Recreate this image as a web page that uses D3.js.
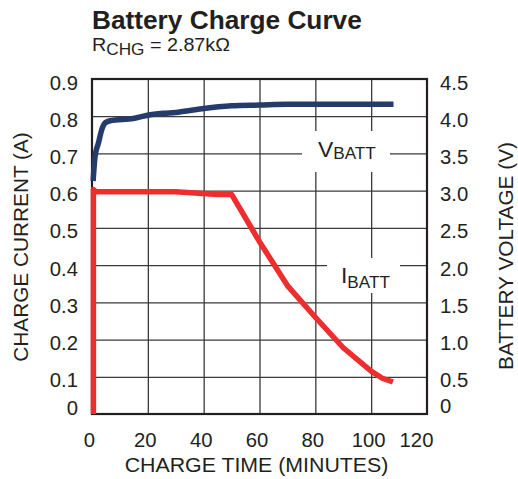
<!DOCTYPE html>
<html>
<head>
<meta charset="utf-8">
<script src="https://cdn.jsdelivr.net/npm/d3@7"></script>
<style>
  body { margin: 0; background: #fff; }
  text { font-family: "Liberation Sans", Arial, Helvetica, sans-serif; fill: #231f20; }
</style>
</head>
<body>
<div id="chart"></div>
<script>
// charge time (minutes) and battery voltage (V)
var vTime = [0.4, 1.1, 2.3, 3.5, 4.7, 6.5, 14.8, 20.8, 25.5, 30, 37.5, 50, 60, 70, 108];
var vBatt = [3.13, 3.46, 3.64, 3.82, 3.91, 3.94, 3.97, 4.02, 4.04, 4.05, 4.09, 4.14, 4.15, 4.16, 4.16];
// charge time (minutes) and charge current (A)
var iTime = [0.5, 0.5, 1.5, 30, 45, 50, 60, 70, 80, 90, 100, 104, 107.8];
var iBatt = [0, 0.603, 0.597, 0.597, 0.59, 0.59, 0.463, 0.345, 0.26, 0.178, 0.115, 0.096, 0.086];

var xTicks = [0, 20, 40, 60, 80, 100, 120];
var iTicks = [0, 0.1, 0.2, 0.3, 0.4, 0.5, 0.6, 0.7, 0.8, 0.9];
var vTicks = [0, 0.5, 1, 1.5, 2, 2.5, 3, 3.5, 4, 4.5];

var w = 518, h = 479;
var pLeft = 92, pRight = 427, pTop = 79, pBottom = 414;
var sx = 1.04; // the source lettering is a bit wide

var xScale = d3.scaleLinear().domain([0, 120]).range([pLeft, pRight]);
var yI = d3.scaleLinear().domain([0, 0.9]).range([pBottom, pTop]);
var yV = d3.scaleLinear().domain([0, 4.5]).range([pBottom, pTop]);

var svg = d3.select("#chart")
	.append("svg")
	.attr("width", w)
	.attr("height", h);

// grid via axes
var gx = svg.append("g")
	.attr("transform", "translate(0," + pBottom + ")")
	.call(d3.axisBottom(xScale).tickValues(xTicks).tickSize(-(pBottom - pTop)).tickSizeOuter(0));
var gy = svg.append("g")
	.attr("transform", "translate(" + pLeft + ",0)")
	.call(d3.axisLeft(yI).tickValues(iTicks).tickSize(-(pRight - pLeft)).tickSizeOuter(0)
		.tickFormat(function (d) { return d === 0 ? "0" : d.toFixed(1); }));
var gv = svg.append("g")
	.attr("transform", "translate(" + pRight + ",0)")
	.call(d3.axisRight(yV).tickValues(vTicks).tickSize(0)
		.tickFormat(function (d) { return d === 0 ? "0" : d.toFixed(1); }));

svg.selectAll(".domain").remove();
svg.selectAll(".tick line")
	.attr("stroke", "#3a3a3a")
	.attr("stroke-width", 1.3);

gx.selectAll(".tick text")
	.attr("dy", 0)
	.attr("y", 0)
	.attr("transform", function (d) {
		var dx = d === 120 ? -11 : -3;
		return "translate(" + dx + ",33) scale(" + sx + ",1)";
	});
gy.selectAll(".tick text")
	.attr("dy", 0)
	.attr("x", 0)
	.attr("transform", function (d) {
		return "translate(-14," + (d === 0 ? 0 : 10) + ") scale(" + sx + ",1)";
	});
gv.selectAll(".tick text")
	.attr("dy", 0)
	.attr("x", 0)
	.attr("transform", function (d) {
		return "translate(13," + (d === 0 ? -2 : 10) + ") scale(" + sx + ",1)";
	});
svg.selectAll(".tick text")
	.attr("fill", "#231f20")
	.attr("font-size", 19.5)
	.style("font-family", "'Liberation Sans', Arial, sans-serif");
svg.selectAll(".tick").filter(function (d) { return d === 0 || d === 120 || d === 0.9 || d === 4.5; })
	.select("line").remove();

// white boxes behind the curve labels
svg.append("rect").attr("x", 302).attr("y", 131).attr("width", 88).attr("height", 41).attr("fill", "#fff");
svg.append("rect").attr("x", 327).attr("y", 258).attr("width", 73).attr("height", 35).attr("fill", "#fff");

// frame
svg.append("rect")
	.attr("x", pLeft)
	.attr("y", pTop)
	.attr("width", pRight - pLeft)
	.attr("height", pBottom - pTop)
	.attr("fill", "none")
	.attr("stroke", "#231f20")
	.attr("stroke-width", 2.2);

// curves
var vLine = d3.line()
	.x(function (d, i) { return xScale(vTime[i]); })
	.y(function (d) { return yV(d); })
	.curve(d3.curveMonotoneX);
var iLine = d3.line()
	.x(function (d, i) { return xScale(iTime[i]); })
	.y(function (d) { return yI(d); });

svg.append("path")
	.datum(iBatt)
	.attr("fill", "none")
	.attr("stroke", "#ee2d2f")
	.attr("stroke-width", 5.5)
	.attr("stroke-linejoin", "round")
	.attr("d", iLine);

svg.append("path")
	.datum(vBatt)
	.attr("fill", "none")
	.attr("stroke", "#243b6c")
	.attr("stroke-width", 5.5)
	.attr("stroke-linejoin", "round")
	.attr("d", vLine);

// curve labels
var vLab = svg.append("text")
	.attr("transform", "translate(318,157) scale(" + sx + ",1)")
	.attr("font-size", 22);
vLab.append("tspan").text("V");
vLab.append("tspan").attr("font-size", 16.5).attr("dy", 2).text("BATT");

var iLab = svg.append("text")
	.attr("transform", "translate(341,283) scale(" + sx + ",1)")
	.attr("font-size", 22);
iLab.append("tspan").text("I");
iLab.append("tspan").attr("font-size", 16.5).attr("dy", 5).text("BATT");

// titles
svg.append("text")
	.attr("transform", "translate(92,29) scale(1.05,1)")
	.attr("font-size", 25)
	.attr("font-weight", "bold")
	.text("Battery Charge Curve");

var sub = svg.append("text")
	.attr("transform", "translate(92,51) scale(" + sx + ",1)")
	.attr("font-size", 19);
sub.append("tspan").text("R");
sub.append("tspan").attr("font-size", 16.5).attr("dy", 4).text("CHG");
sub.append("tspan").attr("dy", -4).text(" = 2.87k\u03A9");

svg.append("text")
	.attr("transform", "translate(" + ((pLeft + pRight) / 2 - 3) + ",472) scale(" + sx + ",1)")
	.attr("text-anchor", "middle")
	.attr("font-size", 20.5)
	.text("CHARGE TIME (MINUTES)");

svg.append("text")
	.attr("transform", "translate(28,247) rotate(-90) scale(" + sx + ",1)")
	.attr("text-anchor", "middle")
	.attr("font-size", 20)
	.text("CHARGE CURRENT (A)");

svg.append("text")
	.attr("transform", "translate(513,256) rotate(-90) scale(" + sx + ",1)")
	.attr("text-anchor", "middle")
	.attr("font-size", 20)
	.text("BATTERY VOLTAGE (V)");
</script>
</body>
</html>
